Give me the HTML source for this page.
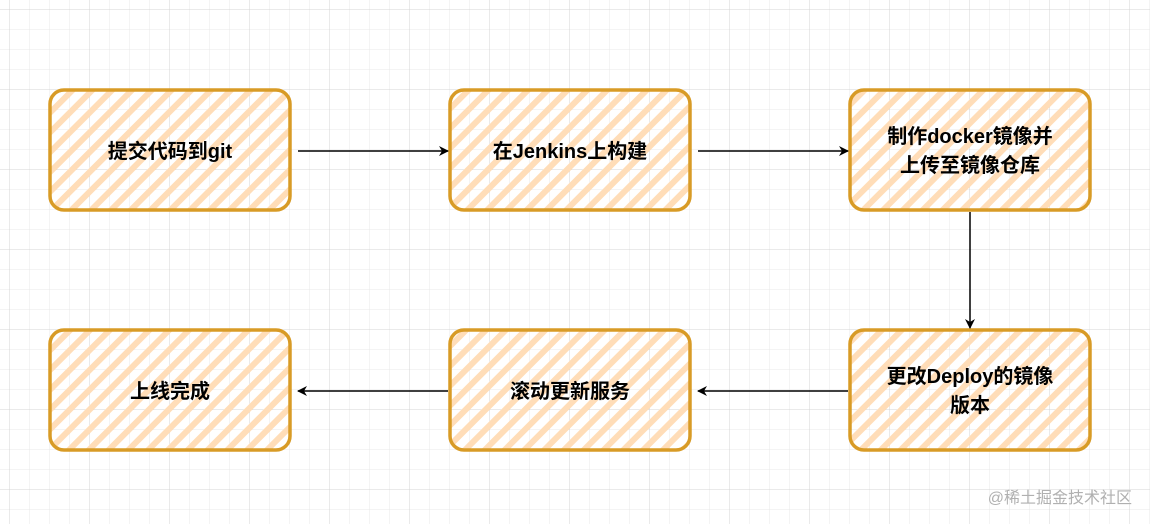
<!DOCTYPE html>
<html><head><meta charset="utf-8"><style>
body{margin:0;width:1150px;height:524px;overflow:hidden;background:#fff}
</style></head><body>
<svg width="1150" height="524" viewBox="0 0 1150 524" xmlns="http://www.w3.org/2000/svg">
<defs>
<pattern id="g" width="20" height="20" patternUnits="userSpaceOnUse" x="10" y="10">
<path d="M20 0V20M0 20H20" stroke="#e8e8e8" stroke-width="1" fill="none"/>
</pattern>
<pattern id="G" width="80" height="80" patternUnits="userSpaceOnUse" x="10" y="10">
<path d="M80 0V80M0 80H80" stroke="#d4d4d4" stroke-width="1" fill="none"/>
</pattern>
<pattern id="h" width="14" height="14" patternUnits="userSpaceOnUse" patternTransform="rotate(45)">
<rect x="0" y="0" width="6" height="14" fill="#ffddb8"/>
</pattern>
<marker id="a" markerWidth="10" markerHeight="10" refX="9" refY="5" orient="auto" markerUnits="userSpaceOnUse">
<path d="M0 0L10 5L0 10L3 5Z" fill="#000"/>
</marker>
</defs>
<rect width="1150" height="524" fill="url(#g)"/>
<rect width="1150" height="524" fill="url(#G)"/>
<g stroke="#d89b26" stroke-width="3.5" fill="url(#h)">
<rect x="50" y="90" width="240" height="120" rx="14"/>
<rect x="450" y="90" width="240" height="120" rx="14"/>
<rect x="850" y="90" width="240" height="120" rx="14"/>
<rect x="50" y="330" width="240" height="120" rx="14"/>
<rect x="450" y="330" width="240" height="120" rx="14"/>
<rect x="850" y="330" width="240" height="120" rx="14"/>
</g>
<g stroke="#000" stroke-width="1.5" fill="none" marker-end="url(#a)">
<path d="M298 151H448"/>
<path d="M698 151H848"/>
<path d="M970 212V328"/>
<path d="M848 391H698"/>
<path d="M448 391H298"/>
</g>
<g font-family="Liberation Sans, Noto Sans CJK SC, sans-serif" font-weight="bold" font-size="20" text-anchor="middle" fill="#000">
<text x="170" y="158">提交代码到git</text>
<text x="570" y="158">在Jenkins上构建</text>
<text x="970" y="143">制作docker镜像并</text>
<text x="970" y="172">上传至镜像仓库</text>
<text x="970" y="383">更改Deploy的镜像</text>
<text x="970" y="412">版本</text>
<text x="570" y="398">滚动更新服务</text>
<text x="170" y="398">上线完成</text>
</g>
<text x="1132" y="503" text-anchor="end" font-family="Liberation Sans, Noto Sans CJK SC, sans-serif" font-size="16" fill="#b0b0b0">@稀土掘金技术社区</text>
</svg>
</body></html>
